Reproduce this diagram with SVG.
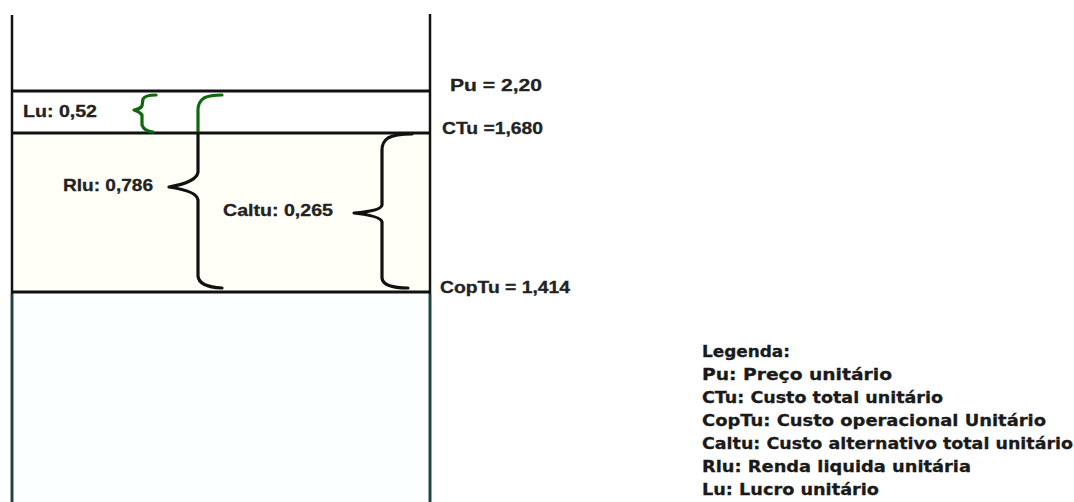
<svg xmlns="http://www.w3.org/2000/svg" width="1074" height="502" viewBox="0 0 1074 502">
  <style>
    .ln { stroke: #111; stroke-width: 3; fill: none; }
    .vl { stroke: #111; stroke-width: 2.5; fill: none; }
    .br { stroke: #111; stroke-width: 3.2; fill: none; stroke-linejoin: round; stroke-linecap: round; }
    .brg { stroke: #0c6a0c; stroke-width: 3.2; fill: none; stroke-linejoin: round; stroke-linecap: round; }
    .lbl { font-family: "Liberation Sans", Arial, sans-serif; font-weight: bold; font-size: 17px; fill: #222; stroke: #222; stroke-width: 0.3; }
    .leg { font-family: "DejaVu Sans", Verdana, sans-serif; font-weight: bold; font-size: 16px; fill: #1a1a1a; stroke: #1a1a1a; stroke-width: 0.3; }
  </style>
  <rect x="0" y="0" width="1074" height="502" fill="#ffffff"/>
  <g id="bands">
    <rect x="13" y="133" width="417" height="159" fill="#fffef7"/>
    <rect x="13" y="292" width="417" height="210" fill="#fbffff"/>
  </g>
  <g id="axes">
    <line class="vl" x1="12" y1="15" x2="12" y2="502"/>
    <line class="vl" x1="430" y1="14" x2="430" y2="502"/>
    <line x1="12" y1="294" x2="12" y2="502" stroke="#1d4545" stroke-width="2.5"/>
    <line x1="430" y1="294" x2="430" y2="502" stroke="#1d4545" stroke-width="2.5"/>
  </g>
  <g id="levels">
    <line class="ln" x1="12" y1="91" x2="430" y2="91"/>
    <line class="ln" x1="12" y1="133" x2="430" y2="133"/>
    <line class="ln" x1="12" y1="292" x2="430" y2="292"/>
  </g>
  <g id="brace-lu">
    <path class="brg" d="M156,95 Q145,95 143,99 L142,106 Q140,109 134,110 Q140,112 142,115 L142,125 Q144,131 153,132"/>
  </g>
  <g id="brace-rlu">
    <path class="brg" d="M222,95 Q210,95 204,98 Q198,102 198,110 L198,133"/>
    <path class="br" d="M198,133 L198,172 Q197,182 169,187 Q197,191 198,200 L198,276 Q199,287 222,288"/>
  </g>
  <g id="brace-caltu">
    <path class="br" d="M412,134 Q395,134 388,138 Q382,142 382,150 L382,205 Q381,211 354,213 Q381,216 382,222 L382,278 Q383,288 408,288"/>
  </g>
  <g id="labels">
    <text class="lbl" x="23" y="117" textLength="74" lengthAdjust="spacingAndGlyphs">Lu: 0,52</text>
    <text class="lbl" x="63" y="191" textLength="90" lengthAdjust="spacingAndGlyphs">Rlu: 0,786</text>
    <text class="lbl" x="223" y="216" textLength="110" lengthAdjust="spacingAndGlyphs">Caltu: 0,265</text>
    <text class="lbl" x="450" y="91" textLength="92" lengthAdjust="spacingAndGlyphs">Pu = 2,20</text>
    <text class="lbl" x="442" y="134" textLength="101" lengthAdjust="spacingAndGlyphs">CTu =1,680</text>
    <text class="lbl" x="440" y="293" textLength="130" lengthAdjust="spacingAndGlyphs">CopTu = 1,414</text>
  </g>
  <g id="legend">
    <text class="leg" x="702" y="357" textLength="88" lengthAdjust="spacingAndGlyphs">Legenda:</text>
    <text class="leg" x="702" y="380" textLength="190" lengthAdjust="spacingAndGlyphs">Pu: Preço unitário</text>
    <text class="leg" x="702" y="403" textLength="241" lengthAdjust="spacingAndGlyphs">CTu: Custo total unitário</text>
    <text class="leg" x="702" y="426" textLength="344" lengthAdjust="spacingAndGlyphs">CopTu: Custo operacional Unitário</text>
    <text class="leg" x="702" y="449" textLength="371" lengthAdjust="spacingAndGlyphs">Caltu: Custo alternativo total unitário</text>
    <text class="leg" x="702" y="472" textLength="269" lengthAdjust="spacingAndGlyphs">Rlu: Renda liquida unitária</text>
    <text class="leg" x="702" y="495" textLength="177" lengthAdjust="spacingAndGlyphs">Lu: Lucro unitário</text>
  </g>
</svg>
